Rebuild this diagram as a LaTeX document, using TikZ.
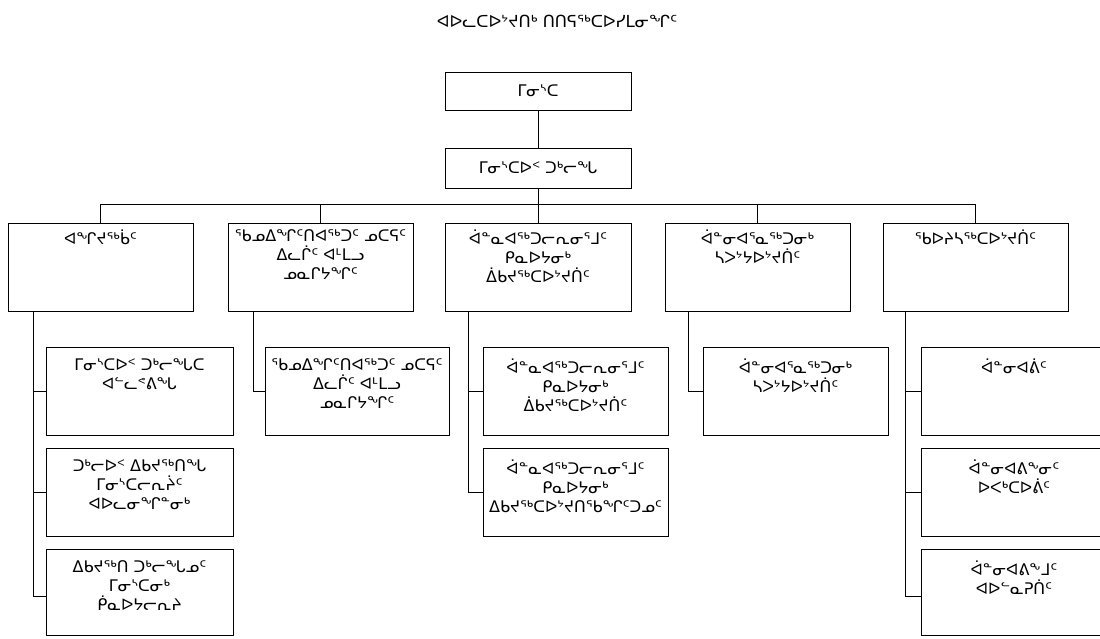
\documentclass[tikz,border=0pt]{standalone}
\usepackage{fontspec}
\setmainfont{DejaVu Sans}
\newcommand{\tbox}[4]{\parbox[c][#2][t]{#1}{\centering\fontsize{16}{18.7}\selectfont\vspace*{#3}#4\par}}
\newcommand{\cbox}[3]{\parbox[c][#2][c]{#1}{\centering\fontsize{16}{18.7}\selectfont #3\par}}
\tikzset{
  bx/.style={draw, line width=1pt, inner sep=0pt, outer sep=0pt, anchor=north west},
  ln/.style={line width=1pt},
}
\begin{document}
\begin{tikzpicture}[x=1pt,y=-1pt]
\useasboundingbox (0,0) rectangle (1100,638);
\fill[white] (0,0) rectangle (1100,638);
\node[font=\fontsize{16.6}{18}\selectfont] (title) at (557,21) {ᐊᐅᓚᑕᐅᔾᔪᑎᒃ ᑎᑎᕋᖅᑕᐅᓯᒪᓂᖏᑦ};
\node[bx] (min) at (445,72) {\cbox{186pt}{38pt}{ᒥᓂᔅᑕ}};
\node[bx] (dm) at (445,148) {\cbox{186pt}{40pt}{ᒥᓂᔅᑕᐅᑉ ᑐᒃᓕᖓ}};
\node[bx] (c1) at (8,223) {\tbox{185pt}{88pt}{7pt}{ᐊᖏᔪᖅᑳᑦ}};
\node[bx] (c2) at (228,223) {\tbox{185pt}{88pt}{7pt}{ᖃᓄᐃᖏᑦᑎᐊᖅᑐᑦ ᓄᑕᕋᑦ\\ᐃᓚᒌᑦ ᐊᒻᒪᓗ\\ᓄᓇᒋᔭᖏᑦ}};
\node[bx] (c3) at (445,223) {\tbox{186pt}{88pt}{7pt}{ᐋᓐᓇᐊᖅᑐᓕᕆᓂᕐᒧᑦ\\ᑭᓇᐅᔭᓂᒃ\\ᐄᑲᔪᖅᑕᐅᔾᔪᑏᑦ}};
\node[bx] (c4) at (665,223) {\tbox{185pt}{88pt}{7pt}{ᐋᓐᓂᐊᕐᓇᖅᑐᓂᒃ\\ᓴᐳᔾᔭᐅᔾᔪᑏᑦ}};
\node[bx] (c5) at (883,223) {\tbox{185pt}{88pt}{7pt}{ᖃᐅᔨᓴᖅᑕᐅᔾᔪᑏᑦ}};
\node[bx] (c1a) at (46,347) {\tbox{187pt}{88pt}{12pt}{ᒥᓂᔅᑕᐅᑉ ᑐᒃᓕᖓᑕ\\ᐊᓪᓚᕝᕕᖓ}};
\node[bx] (c1b) at (46,448) {\tbox{187pt}{88pt}{12pt}{ᑐᒃᓕᐅᑉ ᐃᑲᔪᖅᑎᖓ\\ᒥᓂᔅᑕᓕᕆᔩᑦ\\ᐊᐅᓚᓂᖏᓐᓂᒃ}};
\node[bx] (c1c) at (46,549) {\tbox{187pt}{86pt}{12pt}{ᐃᑲᔪᖅᑎ ᑐᒃᓕᖓᓄᑦ\\ᒥᓂᔅᑕᓂᒃ\\ᑮᓇᐅᔭᓕᕆᔨ}};
\node[bx] (c2a) at (265,347) {\tbox{184pt}{88pt}{12pt}{ᖃᓄᐃᖏᑦᑎᐊᖅᑐᑦ ᓄᑕᕋᑦ\\ᐃᓚᒌᑦ ᐊᒻᒪᓗ\\ᓄᓇᒋᔭᖏᑦ}};
\node[bx] (c3a) at (483,347) {\tbox{185pt}{88pt}{12pt}{ᐋᓐᓇᐊᖅᑐᓕᕆᓂᕐᒧᑦ\\ᑭᓇᐅᔭᓂᒃ\\ᐄᑲᔪᖅᑕᐅᔾᔪᑏᑦ}};
\node[bx] (c3b) at (483,448) {\tbox{185pt}{88pt}{12pt}{ᐋᓐᓇᐊᖅᑐᓕᕆᓂᕐᒧᑦ\\ᑭᓇᐅᔭᓂᒃ\\ᐃᑲᔪᖅᑕᐅᔾᔪᑎᖃᖏᑦᑐᓄᑦ}};
\node[bx] (c4a) at (703,347) {\tbox{185pt}{88pt}{12pt}{ᐋᓐᓂᐊᕐᓇᖅᑐᓂᒃ\\ᓴᐳᔾᔭᐅᔾᔪᑏᑦ}};
\node[bx] (c5a) at (921,347) {\tbox{186pt}{88pt}{12pt}{ᐋᓐᓂᐊᕖᑦ}};
\node[bx] (c5b) at (921,448) {\tbox{186pt}{88pt}{12pt}{ᐋᓐᓂᐊᕕᖕᓂᑦ\\ᐅᐸᒃᑕᐅᕖᑦ}};
\node[bx] (c5c) at (921,549) {\tbox{186pt}{86pt}{12pt}{ᐋᓐᓂᐊᕕᖕᒧᑦ\\ᐊᐅᓪᓇᕈᑏᑦ}};
% top connectors
\draw[ln] (min.south) -- (dm.north);
\coordinate (bus) at (538,204);
\draw[ln] (dm.south) -- (bus);
\draw[ln] (c1.north) -- (c1.north |- bus) -- (c5.north |- bus) -- (c5.north);
\foreach \c in {c2,c3,c4} \draw[ln] (\c.north) -- (\c.north |- bus);
% trunks
\coordinate (t1) at ([xshift=25pt]c1.south west);
\coordinate (t2) at ([xshift=25pt]c2.south west);
\coordinate (t3) at ([xshift=23pt]c3.south west);
\coordinate (t4) at ([xshift=23pt]c4.south west);
\coordinate (t5) at ([xshift=22pt]c5.south west);
\draw[ln] (t1) |- ([yshift=-4pt]c1c.west);
\draw[ln] (t1 |- c1a.west) -- (c1a.west);
\draw[ln] (t1 |- c1b.west) -- (c1b.west);
\draw[ln] (t2) |- (c2a.west);
\draw[ln] (t3) |- (c3b.west);
\draw[ln] (t3 |- c3a.west) -- (c3a.west);
\draw[ln] (t4) |- (c4a.west);
\draw[ln] (t5) |- ([yshift=-4pt]c5c.west);
\draw[ln] (t5 |- c5a.west) -- (c5a.west);
\draw[ln] (t5 |- c5b.west) -- (c5b.west);
\end{tikzpicture}
\end{document}
